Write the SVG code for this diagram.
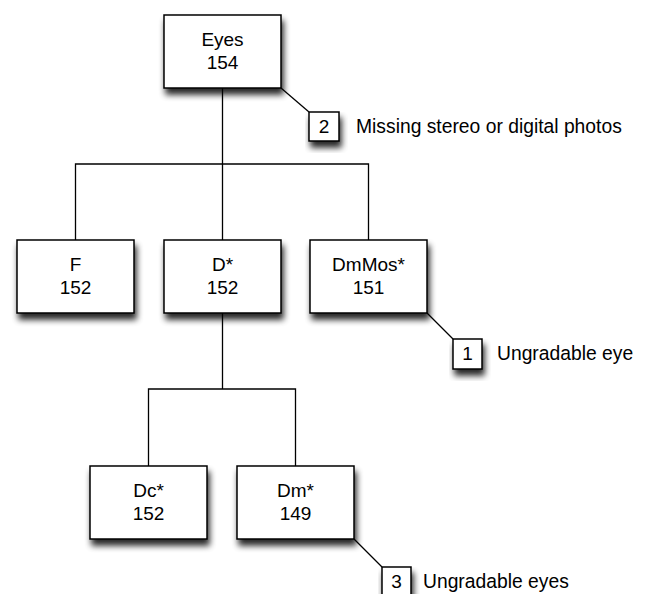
<svg xmlns="http://www.w3.org/2000/svg" width="646" height="594" viewBox="0 0 646 594">
<defs>
<filter id="sh" x="-20%" y="-20%" width="150%" height="160%">
<feGaussianBlur in="SourceAlpha" stdDeviation="3.2"/>
<feOffset dx="2" dy="6" result="b"/>
<feComponentTransfer><feFuncA type="linear" slope="0.85"/></feComponentTransfer>
<feMerge><feMergeNode/><feMergeNode in="SourceGraphic"/></feMerge>
</filter>
</defs>
<style>
.box{fill:#fff;stroke:#000;stroke-width:1.5;filter:url(#sh)}
.t{font-family:"Liberation Sans",Arial,sans-serif;font-size:19px;fill:#000;text-anchor:middle}
.n{font-family:"Liberation Sans",Arial,sans-serif;font-size:19.3px;fill:#000}
.c{fill:none;stroke:#000;stroke-width:1.3}
</style>
<rect width="646" height="594" fill="#fff"/>
<g id="connectors">
<path class="c" d="M222.5 88V240M75.5 240V164H368.5V240"/>
<path class="c" d="M222.5 313V389M148.5 466V389H295.5V466"/>
<path class="c" d="M281 88L309 112"/>
<path class="c" d="M427 313L453 339"/>
<path class="c" d="M354 539L382 567"/>
</g>
<g id="eyes"><rect class="box" x="164" y="15" width="117" height="73"/><text class="t" x="222.5" y="46">Eyes</text><text class="t" x="222.5" y="69">154</text></g>
<g id="f"><rect class="box" x="17" y="240" width="117" height="73"/><text class="t" x="75.5" y="271">F</text><text class="t" x="75.5" y="294">152</text></g>
<g id="d"><rect class="box" x="164" y="240" width="117" height="73"/><text class="t" x="222.5" y="271">D*</text><text class="t" x="222.5" y="294">152</text></g>
<g id="dmmos"><rect class="box" x="310" y="240" width="117" height="73"/><text class="t" x="368.5" y="271">DmMos*</text><text class="t" x="368.5" y="294">151</text></g>
<g id="dc"><rect class="box" x="90" y="466" width="117" height="73"/><text class="t" x="148.5" y="497">Dc*</text><text class="t" x="148.5" y="520">152</text></g>
<g id="dm"><rect class="box" x="237" y="466" width="117" height="73"/><text class="t" x="295.5" y="497">Dm*</text><text class="t" x="295.5" y="520">149</text></g>
<g id="note2"><rect class="box" x="309" y="112" width="30" height="29"/><text class="t" x="324" y="133">2</text><text class="n" x="356" y="133">Missing stereo or digital photos</text></g>
<g id="note1"><rect class="box" x="453" y="339" width="29" height="30"/><text class="t" x="467.5" y="360">1</text><text class="n" x="497" y="360">Ungradable eye</text></g>
<g id="note3"><rect class="box" x="382" y="567" width="29" height="29"/><text class="t" x="396.5" y="588">3</text><text class="n" x="423" y="588">Ungradable eyes</text></g>
</svg>
